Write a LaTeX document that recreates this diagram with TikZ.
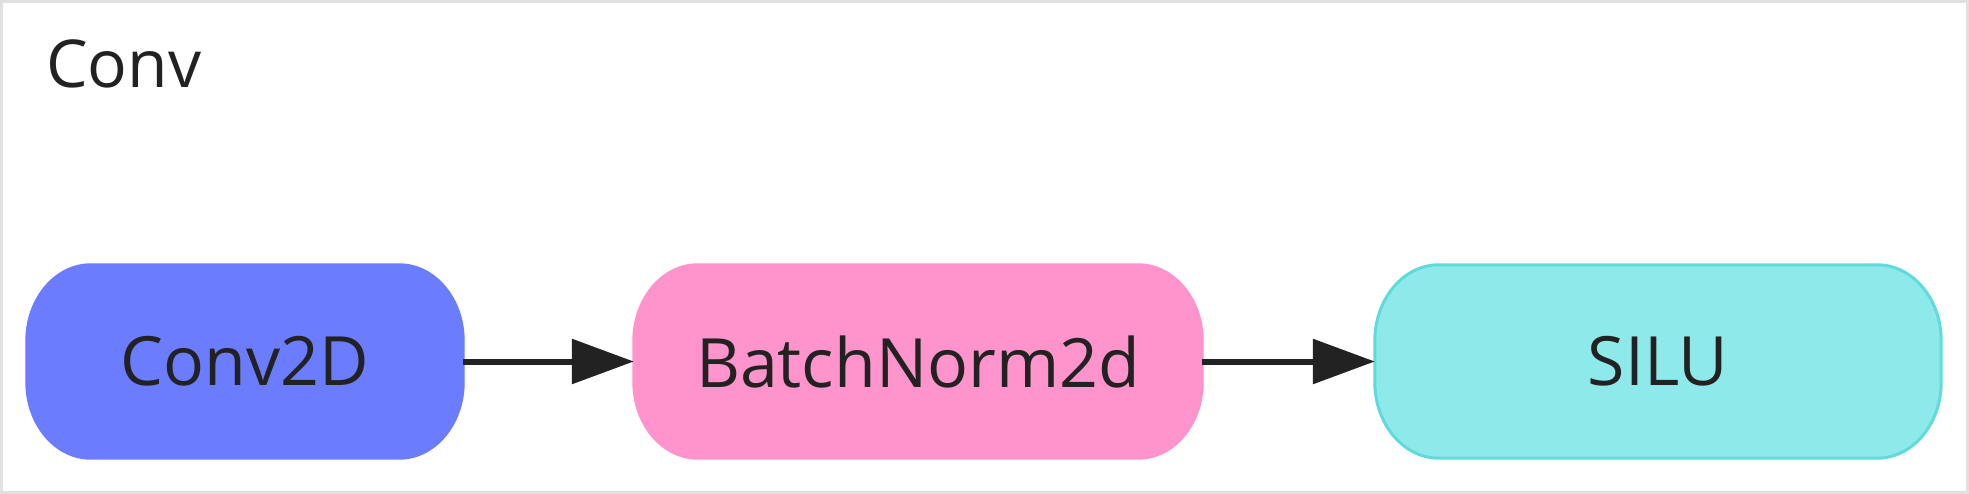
\documentclass[tikz,border=0pt]{standalone}
\usepackage{fontspec}
\setmainfont{Open Sans}
\usetikzlibrary{arrows.meta,calc}
\definecolor{convblue}{RGB}{108,124,255}
\definecolor{bnpink}{RGB}{255,148,204}
\definecolor{silufill}{RGB}{142,234,234}
\definecolor{siluedge}{RGB}{96,218,218}
\definecolor{frame}{RGB}{224,224,224}
\definecolor{ink}{RGB}{34,34,34}
\tikzset{
  layer/.style={minimum height=193pt, inner sep=0pt,
    font=\fontsize{68}{72}\selectfont, text=ink},
  flow/.style={line width=6pt, draw=ink, -{Triangle[length=62pt,width=44pt]}},
  shell/.style={line width=3pt}
}
% elliptical-corner box behind a named node
\newcommand{\layerbox}[2]{%
  \path[shell,#2]
    ($(#1.north west)+(64pt,0)$) -- ($(#1.north east)+(-64pt,0)$)
    arc[start angle=90,end angle=0,x radius=64pt,y radius=76pt]
    -- ($(#1.south east)+(0,76pt)$)
    arc[start angle=0,end angle=-90,x radius=64pt,y radius=76pt]
    -- ($(#1.south west)+(64pt,0)$)
    arc[start angle=270,end angle=180,x radius=64pt,y radius=76pt]
    -- ($(#1.north west)+(0,-76pt)$)
    arc[start angle=180,end angle=90,x radius=64pt,y radius=76pt]
    -- cycle;}
\begin{document}
\begin{tikzpicture}[x=1pt,y=-1pt]
\useasboundingbox (0,0) rectangle (1969,494);
\draw[frame, line width=3pt] (1.5,1.5) rectangle (1967.5,492.5);
\node[anchor=base west, font=\fontsize{66}{70}\selectfont, text=ink, inner sep=0pt] (title) at (46,88) {Conv};
\node[layer, minimum width=436pt] (conv) at (245,361.5) {\phantom{Conv2D}};
\node[layer, minimum width=568pt] (bn) at (918,361.5) {\phantom{BatchNorm2d}};
\node[layer, minimum width=566pt] (silu) at (1658,361.5) {\phantom{SILU}};
\layerbox{conv}{fill=convblue, draw=convblue}
\layerbox{bn}{fill=bnpink, draw=bnpink}
\layerbox{silu}{fill=silufill, draw=siluedge}
\node[layer] (convtext) at (conv.center) {Conv2D};
\node[layer] (bntext) at (bn.center) {BatchNorm2d};
\node[layer] (silutext) at (silu.center) {SILU};
\draw[flow] (conv.east) -- (bn.west);
\draw[flow] (bn.east) -- (silu.west);
\end{tikzpicture}
\end{document}
